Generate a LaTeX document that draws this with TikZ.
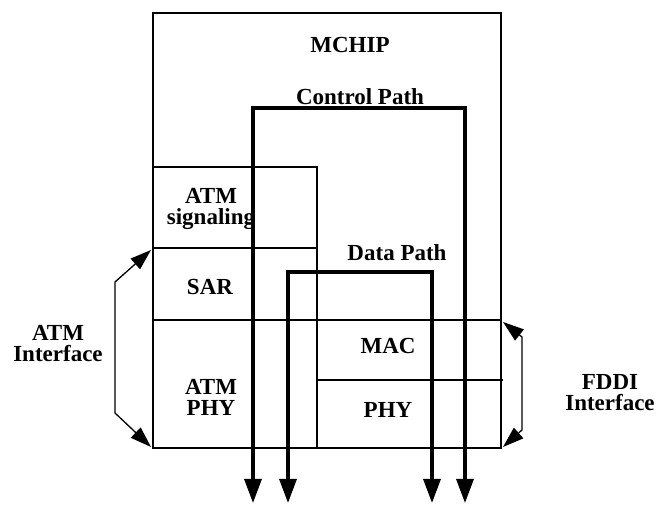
\documentclass[tikz,border=0pt]{standalone}
\usepackage{fontspec}
\setmainfont{Liberation Serif}
\usetikzlibrary{arrows.meta}
\begin{document}
\begin{tikzpicture}[x=1pt,y=-1pt,
  lbl/.style={font=\fontsize{23}{21}\selectfont\bfseries, align=center, inner sep=0pt},
  wall/.style={line width=1.3pt},
  route/.style={line width=3.2pt, {Triangle[length=24pt,width=17pt]}-{Triangle[length=24pt,width=17pt]}},
  span/.style={line width=1.3pt, {Triangle[length=21pt,width=14pt]}-{Triangle[length=21pt,width=14pt]}}]
\useasboundingbox (0,0) rectangle (657,505);
% chip outline and layers
\draw [wall] (153,448) -- (153,13) -- (501,13) -- (501,448) -- cycle;
\draw [wall] (153,167) -- (317,167) -- (317,448);
\draw [wall] (153,248) -- (317,248);
\draw [wall] (153,320) -- (501,320);
\draw [wall] (317,380) -- (503,380);
% labels
\node [lbl] (mchip) at (350,45) {MCHIP};
\node [lbl] (ctrl) at (360,97) {Control Path};
\node [lbl] (data) at (397,253) {Data Path};
\node [lbl] (sig) at (211,209) {ATM\\signaling};
\node [lbl] (sar) at (210,287) {SAR};
\node [lbl] (aphy) at (211,397) {ATM\\PHY};
\node [lbl] (mac) at (388,346) {MAC};
\node [lbl] (phy) at (388,410) {PHY};
\node [lbl] (atmif) at (58,344) {ATM\\Interface};
\node [lbl] (fddiif) at (610,393) {FDDI\\Interface};
% paths through the chip
\coordinate (c1) at (253,503);
\coordinate (c2) at (465,503);
\coordinate (d1) at (288,503);
\coordinate (d2) at (432,503);
\draw [route] (c1) |- (359,108) -| (c2);
\draw [route] (d1) |- (360,272) -| (d2);
% interface brackets
\coordinate (a1) at (151,250);
\coordinate (a2) at (151,447);
\coordinate (f1) at (503,322);
\coordinate (f2) at (503,447);
\draw [span] (a1) -- (115,282) -- (115,413) -- (a2);
\draw [span] (f1) -- (522,337) -- (522,430) -- (f2);
\end{tikzpicture}
\end{document}
